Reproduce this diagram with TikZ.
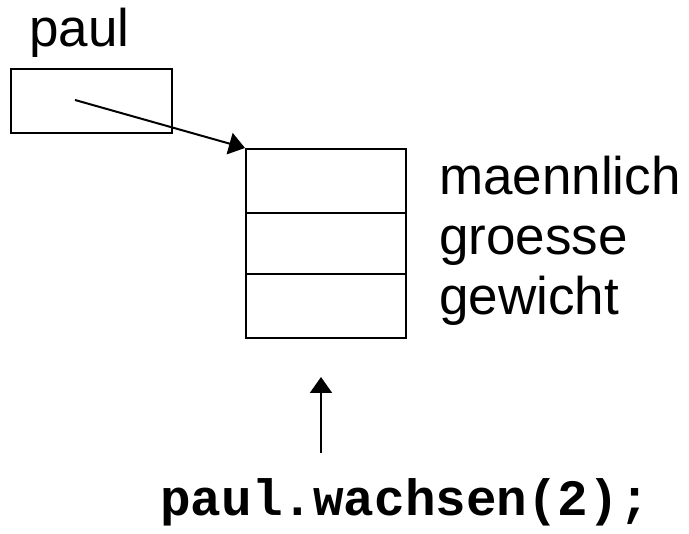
\documentclass[tikz,border=0pt]{standalone}
\usepackage{fontspec}
\setmainfont{Liberation Sans}
\setmonofont{Liberation Mono}
\usetikzlibrary{arrows.meta}
\tikzset{
  box/.style={draw, line width=2pt, rectangle, inner sep=0pt, anchor=north west},
  ptr/.style={line width=2pt, -{Triangle[length=16pt,width=22pt]}},
  label/.style={anchor=base west, inner sep=0pt, font=\fontsize{53}{61}\selectfont},
  code/.style={anchor=base west, inner sep=0pt, font=\fontsize{51}{60}\selectfont\ttfamily\bfseries}
}
\begin{document}
\begin{tikzpicture}[x=1pt, y=-1pt]
  \useasboundingbox (0,0) rectangle (689,534);
  % reference variable
  \node[label] (name) at (29,47) {paul};
  \node[box, minimum width=161pt, minimum height=64pt] (ref) at (10,68) {};
  \coordinate (refstart) at (75,100);
  % object with three fields
  \node[box, minimum width=160pt, minimum height=64pt] (f1) at (245,148) {};
  \node[box, minimum width=160pt, minimum height=61pt] (f2) at (245,212) {};
  \node[box, minimum width=160pt, minimum height=64pt] (f3) at (245,273) {};
  \node[label] (l1) at (439,195) {maennlich};
  \node[label] (l2) at (439,255) {groesse};
  \node[label] (l3) at (439,315) {gewicht};
  % method call
  \node[code] (call) at (160,516) {paul.wachsen(2);};
  \coordinate (callstart) at (321,453);
  \coordinate (calltip) at (321,377);
  \draw[ptr] (refstart) -- (f1.north west);
  \draw[ptr] (callstart) -- (calltip);
\end{tikzpicture}
\end{document}
